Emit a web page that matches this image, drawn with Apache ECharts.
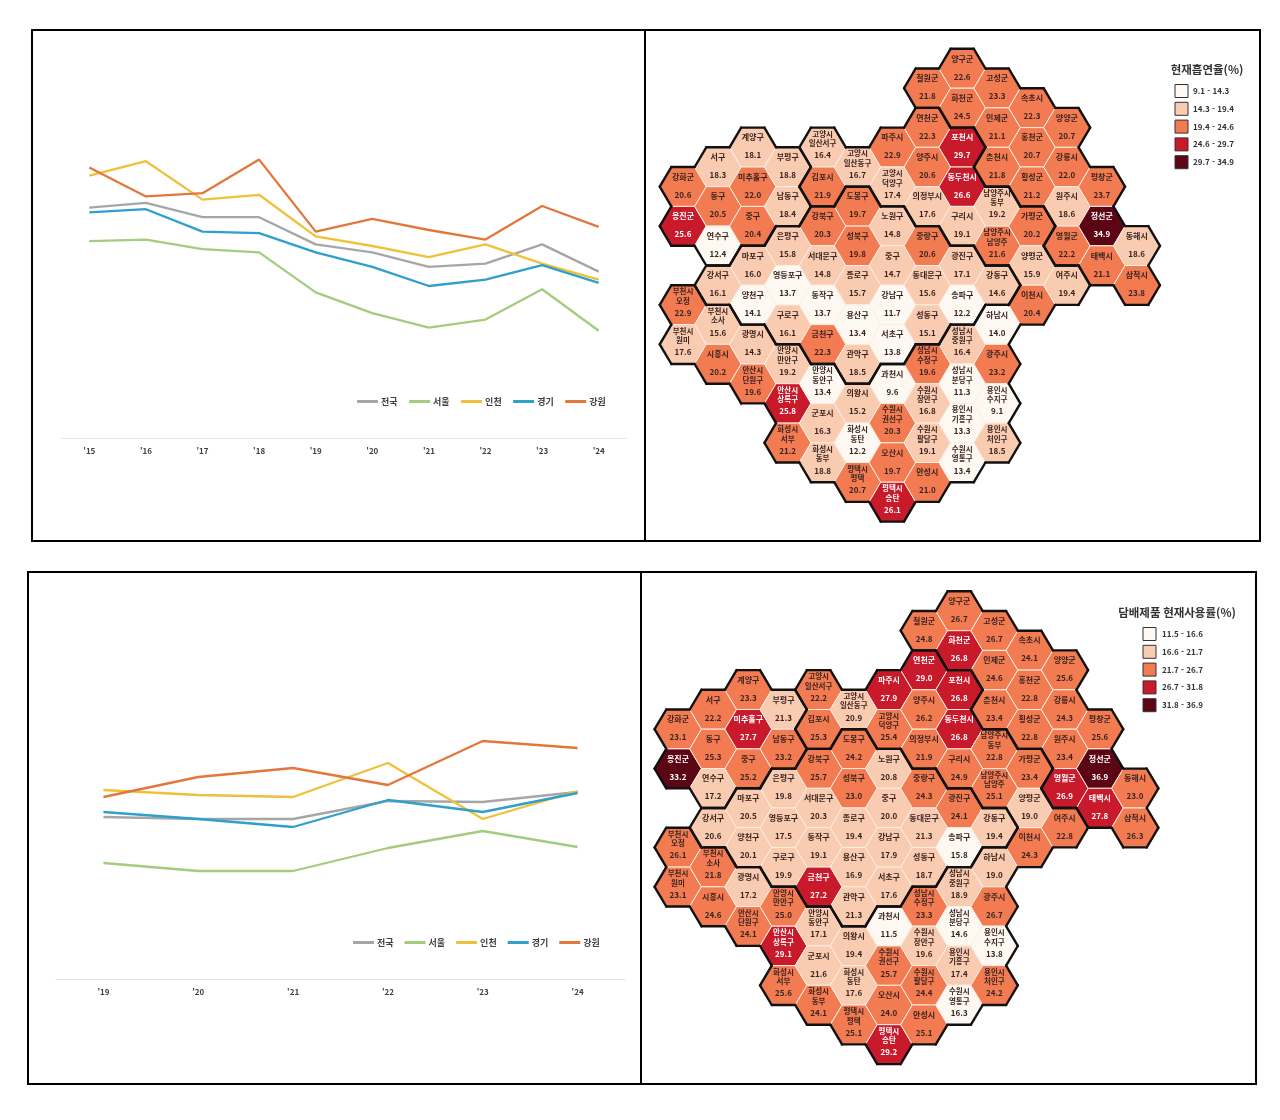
<!DOCTYPE html>
<html lang="ko">
<head>
<meta charset="utf-8">
<title>현재흡연율 · 담배제품 현재사용률</title>
<style>html,body{margin:0;padding:0;background:#fff}#chart{width:1280px;height:1120px}</style>
<script src="https://cdn.jsdelivr.net/npm/echarts@6/dist/echarts.min.js"></script>
</head>
<body>
<div id="chart"></div>
<script>
// ---------- line charts ----------
const seriesNames = ['전국','서울','인천','경기','강원'];
const yearsA = ["'15","'16","'17","'18","'19","'20","'21","'22","'23","'24"];
const nationalA = [22.4,22.7,21.8,21.8,20.1,19.6,18.7,18.9,20.1,18.4];
const seoulA    = [20.3,20.4,19.8,19.6,17.1,15.8,14.9,15.4,17.3,14.7];
const incheonA  = [24.4,25.3,22.9,23.2,20.6,20.0,19.3,20.1,18.9,17.9];
const gyeonggiA = [22.1,22.3,20.9,20.8,19.6,18.7,17.5,17.9,18.8,17.7];
const gangwonA  = [24.9,23.1,23.3,25.4,20.9,21.7,21.0,20.4,22.5,21.2];

const yearsB = ["'19","'20","'21","'22","'23","'24"];
const nationalB = [24.2,24.0,24.0,25.8,25.7,26.7];
const seoulB    = [19.6,18.8,18.8,21.1,22.8,21.2];
const incheonB  = [26.9,26.4,26.2,29.6,24.0,26.8];
const gyeonggiB = [24.7,24.0,23.2,25.9,24.7,26.6];
const gangwonB  = [26.2,28.2,29.1,27.4,31.8,31.1];

// ---------- hexagon tile map: listed column by column ----------
const districts = [
 '강화군','옹진군','부천시\n오정','부천시\n원미',
 '서구','동구','연수구','강서구','부천시\n소사','시흥시',
 '계양구','미추홀구','중구','마포구','양천구','광명시','안산시\n단원구',
 '부평구','남동구','은평구','영등포구','구로구','안양시\n만안구','안산시\n상록구','화성시\n서부',
 '고양시\n일산서구','김포시','강북구','서대문구','동작구','금천구','안양시\n동안구','군포시','화성시\n동부',
 '고양시\n일산동구','도봉구','성북구','종로구','용산구','관악구','의왕시','화성시\n동탄','평택시\n평택',
 '파주시','고양시\n덕양구','노원구','중구','강남구','서초구','과천시','수원시\n권선구','오산시','평택시\n송탄',
 '철원군','연천군','양주시','의정부시','중랑구','동대문구','성동구','성남시\n수정구','수원시\n장안구','수원시\n팔달구','안성시',
 '양구군','화천군','포천시','동두천시','구리시','광진구','송파구','성남시\n중원구','성남시\n분당구','용인시\n기흥구','수원시\n영통구',
 '고성군','인제군','춘천시','남양주시\n동부','남양주시\n남양주','강동구','하남시','광주시','용인시\n수지구','용인시\n처인구',
 '속초시','홍천군','횡성군','가평군','양평군','이천시',
 '양양군','강릉시','원주시','영월군','여주시',
 '평창군','정선군','태백시',
 '동해시','삼척시'
];
const provinces = [
 '인천','인천','경기','경기',
 '인천','인천','인천','서울','경기','경기',
 '인천','인천','인천','서울','서울','경기','경기',
 '인천','인천','서울','서울','서울','경기','경기','경기',
 '경기','경기','서울','서울','서울','서울','경기','경기','경기',
 '경기','서울','서울','서울','서울','서울','경기','경기','경기',
 '경기','경기','서울','서울','서울','서울','경기','경기','경기','경기',
 '강원','경기','경기','경기','서울','서울','서울','경기','경기','경기','경기',
 '강원','강원','경기','경기','경기','서울','서울','경기','경기','경기','경기',
 '강원','강원','강원','경기','경기','서울','경기','경기','경기','경기',
 '강원','강원','강원','경기','경기','경기',
 '강원','강원','강원','강원','경기',
 '강원','강원','강원',
 '강원','강원'
];
// grid position of each tile: column, and row counted in half-tiles
const tileCol = [
 0,0,0,0, 1,1,1,1,1,1, 2,2,2,2,2,2,2, 3,3,3,3,3,3,3,3, 4,4,4,4,4,4,4,4,4,
 5,5,5,5,5,5,5,5,5, 6,6,6,6,6,6,6,6,6,6, 7,7,7,7,7,7,7,7,7,7,7,
 8,8,8,8,8,8,8,8,8,8,8, 9,9,9,9,9,9,9,9,9,9, 10,10,10,10,10,10, 11,11,11,11,11, 12,12,12, 13,13
];
const tileRow = [
 6,8,12,14, 5,7,9,11,13,15, 4,6,8,10,12,14,16, 5,7,9,11,13,15,17,19, 4,6,8,10,12,14,16,18,20,
 5,7,9,11,13,15,17,19,21, 4,6,8,10,12,14,16,18,20,22, 1,3,5,7,9,11,13,15,17,19,21,
 0,2,4,6,8,10,12,14,16,18,20, 1,3,5,7,9,11,13,15,17,19, 2,4,6,8,10,12, 3,5,7,9,11, 6,8,10, 9,11
];
const smokingRate = [
 20.6,25.6,22.9,17.6,
 18.3,20.5,12.4,16.1,15.6,20.2,
 18.1,22.0,20.4,16.0,14.1,14.3,19.6,
 18.8,18.4,15.8,13.7,16.1,19.2,25.8,21.2,
 16.4,21.9,20.3,14.8,13.7,22.3,13.4,16.3,18.8,
 16.7,19.7,19.8,15.7,13.4,18.5,15.2,12.2,20.7,
 22.9,17.4,14.8,14.7,11.7,13.8,9.6,20.3,19.7,26.1,
 21.8,22.3,20.6,17.6,20.6,15.6,15.1,19.6,16.8,19.1,21.0,
 22.6,24.5,29.7,26.6,19.1,17.1,12.2,16.4,11.3,13.3,13.4,
 23.3,21.1,21.8,19.2,21.6,14.6,14.0,23.2,9.1,18.5,
 22.3,20.7,21.2,20.2,15.9,20.4,
 20.7,22.0,18.6,22.2,19.4,
 23.7,34.9,21.1,
 18.6,23.8
];
const tobaccoRate = [
 23.1,33.2,26.1,23.1,
 22.2,25.3,17.2,20.6,21.8,24.6,
 23.3,27.7,25.2,20.5,20.1,17.2,24.1,
 21.3,23.2,19.8,17.5,19.9,25.0,29.1,25.6,
 22.2,25.3,25.7,20.3,19.1,27.2,17.1,21.6,24.1,
 20.9,24.2,23.0,19.4,16.9,21.3,19.4,17.6,25.1,
 27.9,25.4,20.8,20.0,17.9,17.6,11.5,25.7,24.0,29.2,
 24.8,29.0,26.2,21.9,24.3,21.3,18.7,23.3,19.6,24.4,25.1,
 26.7,26.8,26.8,26.8,24.9,24.1,15.8,18.9,14.6,17.4,16.3,
 26.7,24.6,23.4,22.8,25.1,19.4,19.0,26.7,13.8,24.2,
 24.1,22.8,22.8,23.4,19.0,24.3,
 25.6,24.3,23.4,26.9,22.8,
 25.6,36.9,27.8,
 23.0,26.3
];
const smokingClasses = ['9.1 - 14.3','14.3 - 19.4','19.4 - 24.6','24.6 - 29.7','29.7 - 34.9'];
const smokingCuts = [14.29,19.4,24.6,29.7];
const tobaccoClasses = ['11.5 - 16.6','16.6 - 21.7','21.7 - 26.7','26.7 - 31.8','31.8 - 36.9'];
const tobaccoCuts = [16.6,21.7,26.7,31.8];

// ---------- styling ----------
const FONT = '"Noto Sans CJK KR","Noto Sans",sans-serif';
const lineColors = ['#A6A6A6','#A3CC7C','#EFC139','#2F9FCB','#E3773B'];
const classColors = ['#FEF8F3','#F9CBB0','#F27B52','#C91A2C','#5C0515'];
const cellKey = (c, r) => c + ':' + r;
const tileIndex = new Map(tileCol.map((c, i) => [cellKey(c, tileRow[i]), i]));

function classOf(v, cuts){ let k = 0; while (k < cuts.length && v > cuts[k]) k++; return k; }

function tileSeries(values, cuts, axisIndex){
  const data = values.map((v, i) => [tileCol[i], tileRow[i], v]);
  const geom = (params, api) => {
    const p = api.coord([tileCol[params.dataIndex], tileRow[params.dataIndex]]);
    const s = api.size([1, 1]);
    const ax = s[0] * 2 / 3, bx = s[0] / 3, h = s[1];
    return {x: p[0], y: p[1], pts: [[ax,0],[bx,h],[-bx,h],[-ax,0],[-bx,-h],[bx,-h]]};
  };
  const fill = {
    type: 'custom', xAxisIndex: axisIndex, yAxisIndex: axisIndex, silent: true, z: 2,
    coordinateSystem: 'cartesian2d', encode: {x: 0, y: 1}, data,
    renderItem(params, api){
      const g = geom(params, api), i = params.dataIndex, k = classOf(values[i], cuts);
      const lines = districts[i].split('\n');
      const ink = k >= 3 ? '#FFFFFF' : '#3A2420';
      const font = 'bold 8px ' + FONT;
      const small = 'bold 7.5px ' + FONT;
      const children = [{
        type: 'polygon', x: g.x, y: g.y,
        shape: {points: g.pts},
        style: {fill: classColors[k], stroke: '#FDEEE4', lineWidth: 1}
      }];
      lines.forEach((t, n) => children.push({
        type: 'text', x: g.x,
        y: g.y + (lines.length === 1 ? -10 : (n === 0 ? -13.5 : -4)),
        style: {text: t, fill: ink, font: lines.length === 1 ? font : small, align: 'center', verticalAlign: 'middle'}
      }));
      children.push({
        type: 'text', x: g.x, y: g.y + 8,
        style: {text: values[i].toFixed(1), fill: ink, font, align: 'center', verticalAlign: 'middle'}
      });
      return {type: 'group', children};
    }
  };
  const edges = {
    type: 'custom', xAxisIndex: axisIndex, yAxisIndex: axisIndex, silent: true, z: 3,
    coordinateSystem: 'cartesian2d', encode: {x: 0, y: 1}, data,
    renderItem(params, api){
      const g = geom(params, api), i = params.dataIndex;
      const c = tileCol[i], r = tileRow[i];
      // neighbour across each side of the hexagon, in the order of its corners
      const across = [[1,1],[0,2],[-1,1],[-1,-1],[0,-2],[1,-1]];
      const children = [];
      across.forEach((d, e) => {
        const n = tileIndex.get(cellKey(c + d[0], r + d[1]));
        if (n === undefined || provinces[n] !== provinces[i]) {
          const a = g.pts[e], b = g.pts[(e + 1) % 6];
          children.push({
            type: 'line', x: g.x, y: g.y,
            shape: {x1: a[0], y1: a[1], x2: b[0], y2: b[1]},
            style: {stroke: '#111111', lineWidth: 2.4, lineCap: 'round'}
          });
        }
      });
      return {type: 'group', children};
    }
  };
  return [fill, edges];
}

function lineSeries(lists, axisIndex){
  return lists.map((vals, i) => ({
    name: seriesNames[i], type: 'line', data: vals,
    xAxisIndex: axisIndex, yAxisIndex: axisIndex,
    showSymbol: false, symbol: 'none', smooth: false, z: 2 + i,
    lineStyle: {color: lineColors[i], width: 2.3},
    itemStyle: {color: lineColors[i]}
  }));
}

function lineX(labels, gridIndex){
  return {
    type: 'category', data: labels, gridIndex, boundaryGap: true,
    axisLine: {show: true, lineStyle: {color: '#E6E6E6', width: 1}},
    axisTick: {show: false}, splitLine: {show: false},
    axisLabel: {color: '#404040', fontSize: 8, fontWeight: 'bold', fontFamily: FONT, margin: 9}
  };
}
function lineY(min, max, gridIndex){
  return {type: 'value', min, max, gridIndex, show: false, splitLine: {show: false}};
}
function tileX(gridIndex){ return {type: 'value', min: 0, max: 13, gridIndex, show: false, splitLine: {show: false}}; }
function tileY(gridIndex){ return {type: 'value', min: 0, max: 22, inverse: true, gridIndex, show: false, splitLine: {show: false}}; }

function legendGraphics(title, titleSize, titleX, titleY, classes, left, top, step, textX){
  const out = [{
    type: 'text', x: titleX, y: titleY, silent: true,
    style: {text: title, font: 'bold ' + titleSize + 'px ' + FONT, fill: '#333', align: 'center', verticalAlign: 'middle'}
  }];
  classes.forEach((t, i) => {
    out.push({
      type: 'rect', silent: true,
      shape: {x: left, y: top + i * step - 6.5, width: 13, height: 13},
      style: {fill: classColors[i], stroke: '#333', lineWidth: 1}
    });
    out.push({
      type: 'text', x: textX, y: top + i * step, silent: true,
      style: {text: t, font: 'bold 8px ' + FONT, fill: '#333', align: 'left', verticalAlign: 'middle'}
    });
  });
  return out;
}

function frame(x1, y1, x2, y2, mid){
  const st = {fill: 'none', stroke: '#000', lineWidth: 2};
  return [
    {type: 'rect', silent: true, shape: {x: x1, y: y1, width: x2 - x1, height: y2 - y1}, style: st, z: 10},
    {type: 'line', silent: true, shape: {x1: mid, y1, x2: mid, y2}, style: {stroke: '#000', lineWidth: 2}, z: 10}
  ];
}

const legendBase = {
  data: seriesNames, orient: 'horizontal', icon: 'rect', itemWidth: 21, itemHeight: 3,
  selectedMode: false,
  textStyle: {color: '#404040', fontSize: 9, fontWeight: 'bold', fontFamily: FONT, padding: [0, 0, 0, -2]}
};

const chart = echarts.init(document.getElementById('chart'), null, {renderer: 'canvas'});
chart.setOption({
  animation: false,
  backgroundColor: '#ffffff',
  textStyle: {fontFamily: FONT},
  grid: [
    {left: 61, width: 566, top: 118, height: 320},
    {left: 683, width: 453.7, top: 68.5, height: 433.4},
    {left: 56, width: 569, top: 659, height: 320},
    {left: 678, width: 457, top: 611, height: 433.4}
  ],
  xAxis: [lineX(yearsA, 0), tileX(1), lineX(yearsB, 2), tileX(3)],
  yAxis: [lineY(8, 28, 0), tileY(1), lineY(8, 40, 2), tileY(3)],
  legend: [
    Object.assign({}, legendBase, {left: 352, top: 392, itemGap: 11.5}),
    Object.assign({}, legendBase, {left: 348, top: 933, itemGap: 11})
  ],
  graphic: {elements: [
    ...frame(32, 30, 1260, 541, 645),
    ...frame(28, 572, 1256, 1084, 641),
    ...legendGraphics('현재흡연율(%)', 11.5, 1207, 70, smokingClasses, 1175, 91, 17.8, 1193),
    ...legendGraphics('담배제품 현재사용률(%)', 11.5, 1177, 613, tobaccoClasses, 1143, 634, 17.8, 1162)
  ]},
  series: [
    ...lineSeries([nationalA, seoulA, incheonA, gyeonggiA, gangwonA], 0),
    ...tileSeries(smokingRate, smokingCuts, 1),
    ...lineSeries([nationalB, seoulB, incheonB, gyeonggiB, gangwonB], 2),
    ...tileSeries(tobaccoRate, tobaccoCuts, 3)
  ]
});
</script>
</body>
</html>
